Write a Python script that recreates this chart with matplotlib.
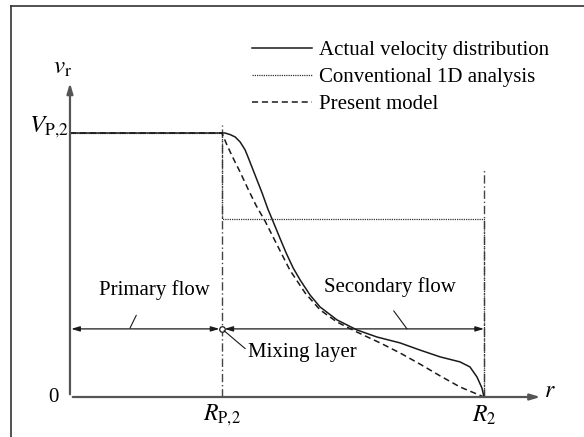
import matplotlib
matplotlib.use("Agg")
import matplotlib.pyplot as plt
from matplotlib.lines import Line2D

# radial position r (0 = axis, 1 = R2) and tangential velocity v (1 = V_P,2)
r_p2 = 0.367
r_2 = 1.0

actual_r = [0.0, 0.367, 0.374, 0.387, 0.399, 0.411, 0.423, 0.430, 0.447, 0.464, 0.478,
            0.490, 0.507, 0.522, 0.539, 0.556, 0.580, 0.604, 0.645, 0.693, 0.742,
            0.797, 0.845, 0.894, 0.942, 0.966, 0.983, 0.995, 1.0]
actual_v = [1.0, 1.0, 1.0, 0.994, 0.985, 0.966, 0.936, 0.909, 0.841, 0.773, 0.712,
            0.667, 0.602, 0.546, 0.489, 0.443, 0.386, 0.341, 0.292, 0.254, 0.227,
            0.205, 0.178, 0.152, 0.133, 0.114, 0.076, 0.034, 0.0]

model_r = [0.0, 0.367, 0.372, 0.379, 0.394, 0.411, 0.430, 0.449, 0.471, 0.498, 0.531,
           0.568, 0.604, 0.645, 0.693, 0.749, 0.797, 0.845, 0.894, 0.942, 1.0]
model_v = [1.0, 1.0, 0.981, 0.955, 0.905, 0.852, 0.788, 0.727, 0.667, 0.583, 0.481,
           0.394, 0.330, 0.284, 0.246, 0.205, 0.167, 0.125, 0.080, 0.038, 0.0]

conv_r = [0.0, r_p2, r_p2, r_2, r_2]
conv_v = [1.0, 1.0, 0.674, 0.674, 0.0]

legend_labels = ["Actual velocity distribution", "Conventional 1D analysis", "Present model"]

plt.rcParams["font.family"] = "serif"
plt.rcParams["font.serif"] = ["Liberation Serif", "DejaVu Serif"]
plt.rcParams["mathtext.fontset"] = "stix"

fig = plt.figure(figsize=(5.84, 4.37), dpi=100)
ax = fig.add_axes([0, 0, 1, 1])
ax.set_xlim(-0.169, 1.2415)
ax.set_ylim(-0.1515, 1.5038)
ax.axis("off")

# frame pieces (left and top only)
fig.add_artist(Line2D([11 / 584, 11 / 584], [0, 1 - 6 / 437], color="#333333", lw=1.2))
fig.add_artist(Line2D([11 / 584, 1], [1 - 6 / 437, 1 - 6 / 437], color="#333333", lw=1.2))

ink = "#1a1a1a"
axis_col = "#555555"

# axes with arrows
ax.annotate("", xy=(0, 1.20), xytext=(0, 0),
            arrowprops=dict(arrowstyle="-|>,head_length=0.6,head_width=0.18", color=axis_col, lw=1.6))
ax.annotate("", xy=(1.143, 0), xytext=(0, 0),
            arrowprops=dict(arrowstyle="-|>,head_length=0.6,head_width=0.18", color=axis_col, lw=1.6))

# dash-dot reference lines
ax.plot([r_p2, r_p2], [0, 1.03], color="#444444", lw=1.0, ls=(0, (6, 2, 1, 2)))
ax.plot([r_2, r_2], [0, 0.86], color="#444444", lw=1.0, ls=(0, (6, 2, 1, 2)))

# curves
l1, = ax.plot(actual_r, actual_v, color=ink, lw=1.1)
l2, = ax.plot(conv_r, conv_v, color="#333333", lw=0.9, ls=(0, (1, 0.8)))
l3, = ax.plot(model_r, model_v, color=ink, lw=1.1, ls=(0, (4, 2.5)))

ax.legend([l1, l2, l3], legend_labels, loc="upper left", bbox_to_anchor=(0.4315, 0.907),
          frameon=False, fontsize=15, handlelength=2.9, handletextpad=0.3,
          labelspacing=0.35, borderpad=0, borderaxespad=0)

# flow region arrows
arr_v = 0.258
arrow_kw = dict(arrowstyle="<|-|>,head_length=0.5,head_width=0.15", color=ink, lw=0.9,
                shrinkA=0, shrinkB=0)
ax.annotate("", xy=(0.003, arr_v), xytext=(r_p2 - 0.006, arr_v), arrowprops=arrow_kw)
ax.annotate("", xy=(r_p2 + 0.006, arr_v), xytext=(r_2, arr_v), arrowprops=arrow_kw)
ax.plot([r_p2], [arr_v], marker="o", ms=4, mfc="white", mec=ink, mew=0.9)

# labels with leader lines
ax.annotate("Primary flow", xy=(0.145, 0.261), xytext=(0.205, 0.405), ha="center", va="center",
            fontsize=15, arrowprops=dict(arrowstyle="-", color=ink, lw=0.8,
                                         shrinkA=10, shrinkB=0, relpos=(0.4, 0)))
ax.annotate("Secondary flow", xy=(0.814, 0.258), xytext=(0.773, 0.417), ha="center", va="center",
            fontsize=15, arrowprops=dict(arrowstyle="-", color=ink, lw=0.8,
                                         shrinkA=10, shrinkB=0, relpos=(0.45, 0)))
ax.annotate("Mixing layer", xy=(r_p2, arr_v), xytext=(0.430, 0.167), ha="left", va="center",
            fontsize=15, arrowprops=dict(arrowstyle="-", color=ink, lw=0.8,
                                         shrinkA=0, shrinkB=2, relpos=(0, 0.6)))

# axis labels
ax.text(-0.041, 0.0, "0", ha="center", va="center", fontsize=15)
ax.text(-0.017, 1.245, r"$v_{\mathrm{r}}$", ha="center", va="center", fontsize=18)
ax.text(-0.003, 1.02, r"$V_{\mathrm{P{,}2}}$", ha="right", va="center", fontsize=18)
ax.text(r_p2, -0.07, r"$R_{\mathrm{P{,}2}}$", ha="center", va="center", fontsize=17)
ax.text(r_2, -0.07, r"$R_{2}$", ha="center", va="center", fontsize=17)
ax.text(1.158, 0.02, r"$r$", ha="center", va="center", fontsize=17)

fig.savefig("out.png", dpi=100)
